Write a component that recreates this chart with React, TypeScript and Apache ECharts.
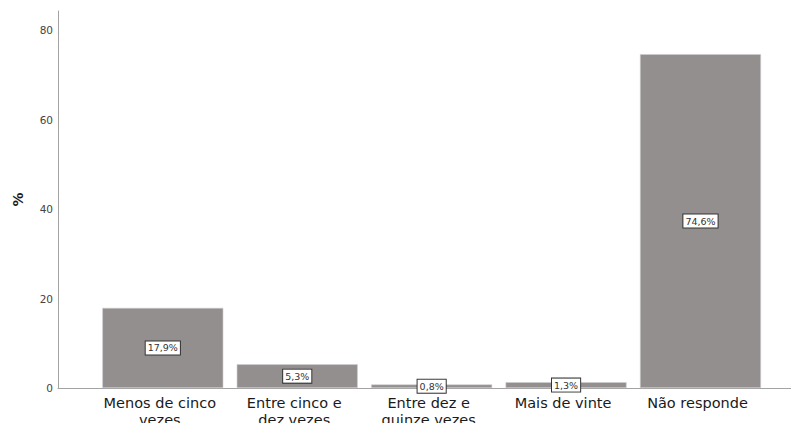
import React, { useEffect, useRef } from "react";
import * as echarts from "echarts";

const categories = [
  "Menos de cinco\nvezes",
  "Entre cinco e\ndez vezes",
  "Entre dez e\nquinze vezes",
  "Mais de vinte",
  "Não responde",
];
const percentValues = [17.9, 5.3, 0.8, 1.3, 74.6];
const yTickValues = [0, 20, 40, 60, 80];
const yAxisName = "%";

const Y_MAX = 84.25;

export default function App() {
  const ref = useRef<HTMLDivElement>(null);
  useEffect(() => {
    if (!ref.current) return;
    const chart = echarts.init(ref.current, undefined, { renderer: "svg" });
    const fontFamily = "'DejaVu Sans', sans-serif";
    chart.setOption({
      animation: false,
      backgroundColor: "#ffffff",
      grid: [
        { left: 58, right: 0, top: 11, bottom: 35, outerBoundsMode: "none", containLabel: false },
        { left: 95.6, right: 23.3, top: 11, bottom: 35, outerBoundsMode: "none", containLabel: false },
      ],
      xAxis: [
        {
          gridIndex: 0,
          type: "value",
          min: 0,
          max: 1,
          axisLine: { show: true, lineStyle: { color: "#a3a3a3", width: 1 } },
          axisTick: { show: false },
          axisLabel: { show: false },
          splitLine: { show: false },
        },
        {
          gridIndex: 1,
          type: "category",
          data: categories,
          axisLine: { show: false },
          axisTick: { show: false },
          axisLabel: {
            interval: 0,
            margin: 7,
            fontFamily,
            fontSize: 14.5,
            lineHeight: 16.5,
            color: "#1a1a1a",
            padding: [0, 6, 0, 0],
          },
        },
      ],
      yAxis: [
        {
          gridIndex: 0,
          type: "value",
          min: 0,
          max: Y_MAX,
          interval: 20,
          name: yAxisName,
          nameLocation: "middle",
          nameGap: 33,
          nameTextStyle: {
            fontFamily,
            fontSize: 14,
            fontWeight: "bold",
            color: "#1a1a1a",
          },
          axisLine: { show: true, lineStyle: { color: "#a3a3a3", width: 1 } },
          axisTick: { show: false },
          splitLine: { show: false },
          axisLabel: {
            margin: 5,
            fontFamily,
            fontSize: 10.5,
            color: "#444",
            showMaxLabel: false,
            formatter: (v: number) =>
              yTickValues.includes(v) ? String(v) : "",
          },
        },
        {
          gridIndex: 1,
          type: "value",
          min: 0,
          max: Y_MAX,
          show: false,
        },
      ],
      series: [
        {
          type: "bar",
          xAxisIndex: 1,
          yAxisIndex: 1,
          data: percentValues,
          barWidth: 121,
          itemStyle: { color: "#948f8f", borderColor: "#cfcccc", borderWidth: 0.6 },
          label: {
            show: true,
            position: "inside",
            formatter: (p: any) =>
              String(p.value).replace(".", ",") + "%",
            fontFamily,
            fontSize: 9.5,
            lineHeight: 11,
            color: "#333",
            backgroundColor: "#ffffff",
            borderColor: "#333",
            borderWidth: 1,
            padding: [1, 2, 1, 2],
          },
        },
      ],
    });
    return () => chart.dispose();
  }, []);
  return (
    <div
      ref={ref}
      style={{ position: "fixed", left: 0, top: 0, width: 791, height: 423 }}
    />
  );
}
